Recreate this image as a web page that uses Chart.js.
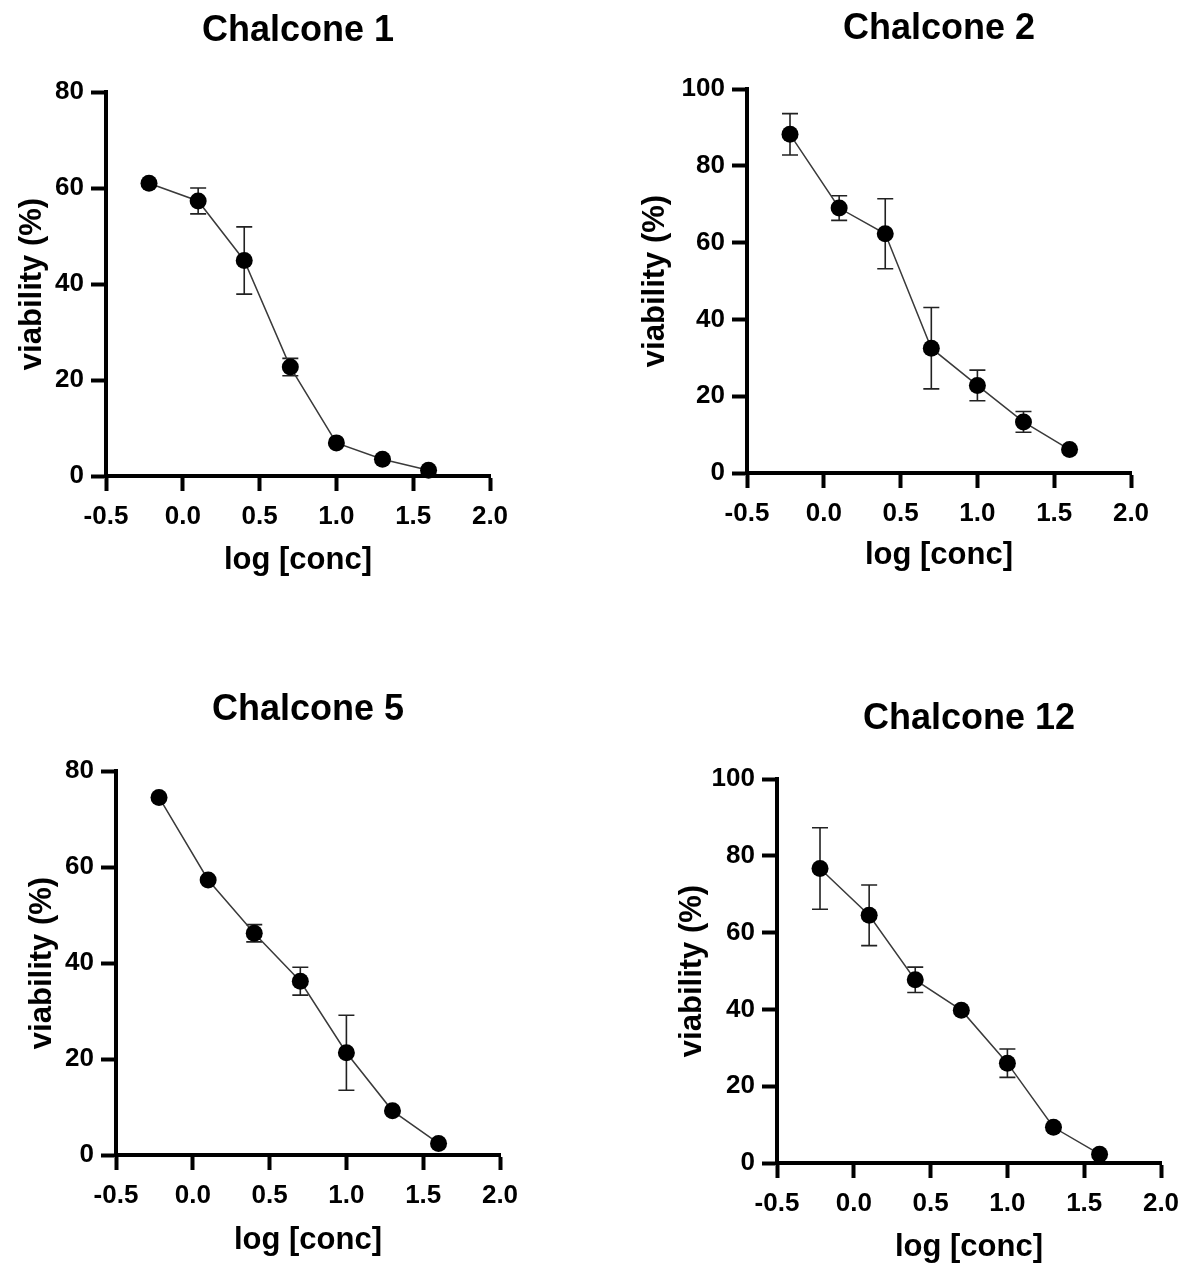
<!DOCTYPE html>
<html>
<head>
<meta charset="utf-8">
<title>Chalcone viability</title>
<script src="https://cdn.jsdelivr.net/npm/chart.js@4.4.1/dist/chart.umd.min.js"></script>
<style>
    html, body {
        margin: 0;
        padding: 0;
        background: #fff;
    }
    #figure {
        position: relative;
        width: 1184px;
        height: 1266px;
        background: #fff;
    }
    #figure canvas {
        position: absolute;
    }
</style>
</head>
<body>
<div id="figure">
    <canvas id="chalcone1"></canvas>
    <canvas id="chalcone2"></canvas>
    <canvas id="chalcone5"></canvas>
    <canvas id="chalcone12"></canvas>
</div>
<script>
// log concentrations shared by every compound
const logConc = [-0.22, 0.1, 0.4, 0.7, 1.0, 1.3, 1.6];

// tick labels
const xTickValues = [-0.5, 0.0, 0.5, 1.0, 1.5, 2.0];
const yTicks80 = [0, 20, 40, 60, 80];
const yTicks100 = [0, 20, 40, 60, 80, 100];

// viability (%) mean and error for each compound
const chalcone1Mean = [61.0, 57.3, 44.9, 22.7, 6.9, 3.5, 1.2];
const chalcone1Err = [0, 2.7, 7.0, 1.8, 0, 0, 0];

const chalcone2Mean = [88.2, 69.0, 62.3, 32.5, 22.8, 13.3, 6.1];
const chalcone2Err = [5.4, 3.2, 9.1, 10.6, 4.0, 2.7, 0];

const chalcone5Mean = [74.5, 57.3, 46.2, 36.2, 21.3, 9.2, 2.4];
const chalcone5Err = [0, 0, 1.8, 2.9, 7.8, 0, 0];

const chalcone12Mean = [76.7, 64.5, 47.7, 39.8, 26.0, 9.3, 2.3];
const chalcone12Err = [10.6, 7.9, 3.3, 0, 3.7, 0, 0];

const FONT = "'Liberation Sans', Arial, Helvetica, sans-serif";

// vertical error bars with caps, drawn under the markers
const errorBars = {
    id: 'errorBars',
    beforeDatasetsDraw(chart) {
        const ctx = chart.ctx;
        const xs = chart.scales.x;
        const ys = chart.scales.y;
        chart.data.datasets.forEach(ds => {
            const errs = ds.errors || [];
            ctx.save();
            ctx.strokeStyle = '#222';
            ctx.lineWidth = 1.6;
            ds.data.forEach((p, i) => {
                const e = errs[i];
                if (!e) return;
                const x = xs.getPixelForValue(p.x);
                const yTop = ys.getPixelForValue(p.y + e);
                const yBot = ys.getPixelForValue(p.y - e);
                const cap = 8;
                ctx.beginPath();
                ctx.moveTo(x, yTop);
                ctx.lineTo(x, yBot);
                ctx.moveTo(x - cap, yTop);
                ctx.lineTo(x + cap, yTop);
                ctx.moveTo(x - cap, yBot);
                ctx.lineTo(x + cap, yBot);
                ctx.stroke();
            });
            ctx.restore();
        });
    }
};

function makePanel(id, title, means, errs, yTicks, box) {
    const titleSize = 36;
    const titleShift = 3;
    const axisTitleSize = 31;
    const padRight = 40;

    const left = Math.round(box.yTitleX - axisTitleSize / 2);
    const top = Math.round(box.titleY - titleSize / 2) - titleShift;
    const bottom = Math.round(box.xTitleY + axisTitleSize / 2);
    const width = box.plotR + padRight - left;
    const height = bottom - top;

    const canvas = document.getElementById(id);
    canvas.width = width;
    canvas.height = height;
    canvas.style.left = left + 'px';
    canvas.style.top = top + 'px';
    canvas.style.width = width + 'px';
    canvas.style.height = height + 'px';

    const yWidth = box.plotL - left;
    const xHeight = bottom - box.plotB;
    const titleGap = box.plotT - top - titleSize - titleShift * 2;

    const tickFont = { family: FONT, size: 26, weight: 'bold' };
    const axisTitleFont = { family: FONT, size: axisTitleSize, weight: 'bold', lineHeight: 1 };

    const points = logConc.map((x, i) => ({ x: x, y: means[i] }));

    return new Chart(canvas.getContext('2d'), {
        type: 'line',
        data: {
            datasets: [{
                data: points,
                errors: errs,
                borderColor: '#3a3a3a',
                borderWidth: 1.5,
                tension: 0,
                pointRadius: 8.5,
                pointBackgroundColor: '#000',
                pointBorderWidth: 0,
                clip: false
            }]
        },
        options: {
            responsive: false,
            animation: false,
            events: [],
            layout: {
                padding: { right: padRight }
            },
            plugins: {
                legend: { display: false },
                tooltip: { enabled: false },
                title: {
                    display: true,
                    text: title,
                    fullSize: false,
                    color: '#000',
                    font: { family: FONT, size: titleSize, weight: 'bold', lineHeight: 1 },
                    padding: { top: titleShift * 2, bottom: titleGap }
                }
            },
            scales: {
                x: {
                    type: 'linear',
                    min: xTickValues[0],
                    max: xTickValues[xTickValues.length - 1],
                    afterBuildTicks: s => { s.ticks = xTickValues.map(v => ({ value: v })); },
                    afterFit: s => { s.height = xHeight; s.paddingLeft = 0; s.paddingRight = 0; },
                    border: { display: true, color: '#000', width: 4 },
                    grid: {
                        drawOnChartArea: false,
                        drawTicks: true,
                        tickLength: 15,
                        tickWidth: 4,
                        tickColor: '#000'
                    },
                    ticks: {
                        color: '#000',
                        font: tickFont,
                        padding: 10,
                        maxRotation: 0,
                        autoSkip: false,
                        callback: v => Number(v).toFixed(1)
                    },
                    title: {
                        display: true,
                        text: 'log [conc]',
                        color: '#000',
                        font: axisTitleFont,
                        padding: 0
                    }
                },
                y: {
                    type: 'linear',
                    min: yTicks[0],
                    max: yTicks[yTicks.length - 1],
                    afterBuildTicks: s => { s.ticks = yTicks.map(v => ({ value: v })); },
                    afterFit: s => { s.width = yWidth; s.paddingTop = 0; s.paddingBottom = 0; },
                    border: { display: true, color: '#000', width: 4 },
                    grid: {
                        drawOnChartArea: false,
                        drawTicks: true,
                        tickLength: 15,
                        tickWidth: 4,
                        tickColor: '#000'
                    },
                    ticks: {
                        color: '#000',
                        font: tickFont,
                        padding: 7,
                        autoSkip: false
                    },
                    title: {
                        display: true,
                        text: 'viability (%)',
                        color: '#000',
                        font: axisTitleFont,
                        padding: 0
                    }
                }
            }
        },
        plugins: [errorBars]
    });
}

makePanel('chalcone1', 'Chalcone 1', chalcone1Mean, chalcone1Err, yTicks80,
    { plotL: 106, plotT: 92, plotR: 490, plotB: 476, titleY: 28, xTitleY: 560, yTitleX: 32 });
makePanel('chalcone2', 'Chalcone 2', chalcone2Mean, chalcone2Err, yTicks100,
    { plotL: 747, plotT: 89, plotR: 1131, plotB: 473, titleY: 26, xTitleY: 555, yTitleX: 655 });
makePanel('chalcone5', 'Chalcone 5', chalcone5Mean, chalcone5Err, yTicks80,
    { plotL: 116, plotT: 771, plotR: 500, plotB: 1155, titleY: 707, xTitleY: 1240, yTitleX: 42 });
makePanel('chalcone12', 'Chalcone 12', chalcone12Mean, chalcone12Err, yTicks100,
    { plotL: 777, plotT: 779, plotR: 1161, plotB: 1163, titleY: 716, xTitleY: 1247, yTitleX: 692 });
</script>
</body>
</html>
